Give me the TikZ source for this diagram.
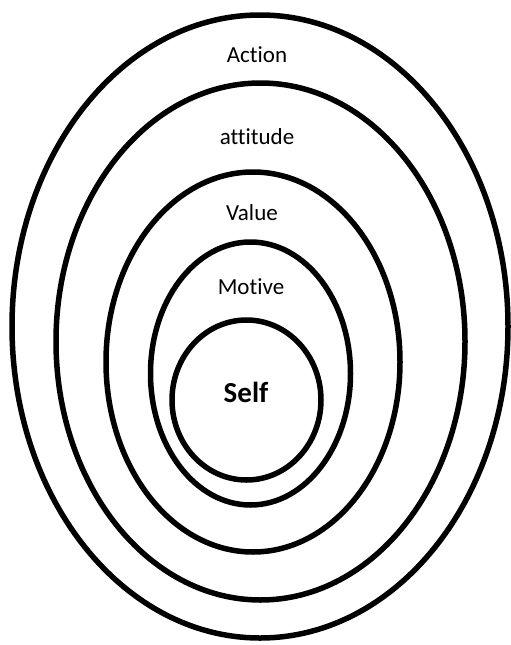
\documentclass[tikz,border=0pt]{standalone}
\usepackage{fontspec}
\setmainfont[Ligatures=NoCommon]{Carlito}

\begin{document}
\begin{tikzpicture}[x=1pt,y=-1pt,
  ring/.style={line width=5.5pt},
  lbl/.style={inner sep=0pt,font=\fontsize{23}{27}\selectfont}]
  \useasboundingbox (0,0) rectangle (511,645);
  \draw[ring] (260,326.5) ellipse [x radius=248, y radius=311.5];
  \draw[ring] (260.5,341.5) ellipse [x radius=204.5, y radius=258.5];
  \draw[ring] (253,362) ellipse [x radius=147, y radius=190];
  \draw[ring] (250.5,373.5) ellipse [x radius=100, y radius=131.5];
  \draw[ring] (246.5,400) ellipse [x radius=74.5, y radius=80];
  \node[lbl] (action) at (257,55) {Action};
  \node[lbl] (attitude) at (257,137) {attitude};
  \node[lbl] (value) at (252,213) {Value};
  \node[lbl] (motive) at (251,287) {Motive};
  \node[lbl,font=\fontsize{29}{34}\selectfont\bfseries] (self) at (246,392) {Self};
\end{tikzpicture}
\end{document}
